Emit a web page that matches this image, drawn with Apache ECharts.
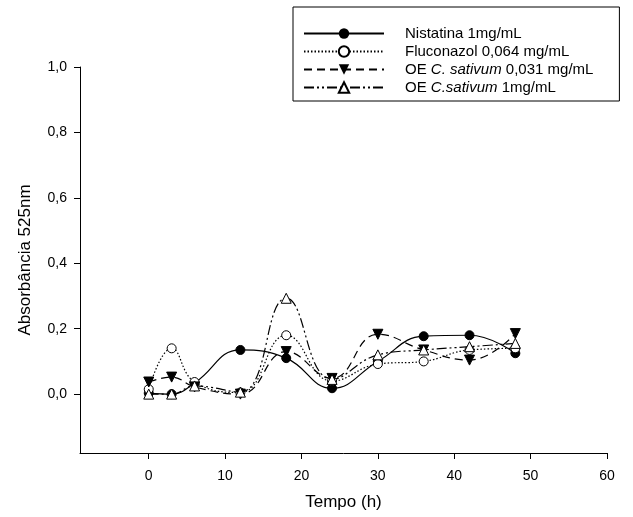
<!DOCTYPE html>
<html>
<head>
<meta charset="utf-8">
<script src="https://cdn.jsdelivr.net/npm/echarts@6/dist/echarts.min.js"></script>
<style>
  html, body { margin: 0; padding: 0; background: #fff; }
  #chart { width: 633px; height: 517px; }
</style>
</head>
<body>
<div id="chart"></div>
<script>
// time points (h)
var tempo = [0, 3, 6, 12, 18, 24, 30, 36, 42, 48];

// absorbance
var nistatina   = [0.003, 0.0, 0.034, 0.135, 0.11, 0.018, 0.10, 0.177, 0.18, 0.125];
var fluconazol  = [0.015, 0.14, 0.037, 0.005, 0.18, 0.04, 0.092, 0.10, 0.135, 0.14];
var oeBaixa     = [0.037, 0.052, 0.022, 0.0, 0.13, 0.048, 0.183, 0.135, 0.104, 0.185];
var oeAlta      = [0.0, 0.0, 0.025, 0.006, 0.293, 0.045, 0.12, 0.135, 0.145, 0.155];

var seriesNames = [
    'Nistatina 1mg/mL',
    'Fluconazol 0,064 mg/mL',
    'OE C. sativum 0,031 mg/mL',
    'OE C.sativum 1mg/mL'
];
var legendLabels = [
    'Nistatina 1mg/mL',
    'Fluconazol 0,064 mg/mL',
    'OE {i|C. sativum} 0,031 mg/mL',
    'OE {i|C.sativum} 1mg/mL'
];

var xTicks = [0, 10, 20, 30, 40, 50, 60];
var yTicks = [0, 0.2, 0.4, 0.6, 0.8, 1.0];

function pairs(vals) {
    return tempo.map(function (t, i) { return [t, vals[i]]; });
}

var font = 'Liberation Sans, Arial, sans-serif';
var chart = echarts.init(document.getElementById('chart'));

var option = {
    animation: false,
    backgroundColor: '#fff',
    textStyle: { fontFamily: font, color: '#000' },
    grid: { left: 80, top: 67, right: 26, bottom: 64 },
    legend: {
        orient: 'vertical',
        left: 293,
        top: 7,
        padding: [19, 26, 6, 10],
        itemGap: 3,
        itemWidth: 80,
        itemHeight: 13,
        borderColor: '#000',
        borderWidth: 1,
        data: seriesNames,
        formatter: function (name) {
            return legendLabels[seriesNames.indexOf(name)];
        },
        textStyle: {
            fontFamily: font,
            fontSize: 15,
            color: '#000',
            padding: [0, 0, 0, 16],
            rich: {
                i: { fontStyle: 'italic', fontFamily: font, fontSize: 15, color: '#000' }
            }
        }
    },
    xAxis: {
        type: 'value',
        min: -9,
        max: 60,
        name: 'Tempo (h)',
        nameLocation: 'middle',
        nameGap: 41,
        nameTextStyle: { fontSize: 17, color: '#000', fontFamily: font },
        splitLine: { show: false },
        axisLine: { onZero: false, lineStyle: { color: '#000', width: 1 } },
        axisTick: { customValues: xTicks, length: 6, lineStyle: { color: '#000' } },
        axisLabel: { customValues: xTicks, fontSize: 14, color: '#000', margin: 16 }
    },
    yAxis: {
        type: 'value',
        min: -0.18,
        max: 1.0,
        name: 'Absorbância 525nm',
        nameLocation: 'middle',
        nameGap: 46,
        nameTextStyle: { fontSize: 17, color: '#000', fontFamily: font },
        splitLine: { show: false },
        axisLine: { show: true, onZero: false, lineStyle: { color: '#000', width: 1 } },
        axisTick: { show: true, customValues: yTicks, length: 6, lineStyle: { color: '#000' } },
        axisLabel: {
            customValues: yTicks,
            fontSize: 14,
            color: '#000',
            margin: 13,
            formatter: function (v) { return v.toFixed(1).replace('.', ','); }
        }
    },
    series: [
        {
            name: seriesNames[0],
            type: 'line',
            smooth: 0.45,
            data: pairs(nistatina),
            symbol: 'circle',
            symbolSize: 9,
            itemStyle: { color: '#000', borderColor: '#000' },
            lineStyle: { color: '#000', width: 1.2, type: 'solid' }
        },
        {
            name: seriesNames[1],
            type: 'line',
            smooth: 0.45,
            data: pairs(fluconazol),
            symbol: 'circle',
            symbolSize: 9,
            itemStyle: { color: '#fff', borderColor: '#000', borderWidth: 1 },
            lineStyle: { color: '#000', width: 1.2, type: [1.5, 2] }
        },
        {
            name: seriesNames[2],
            type: 'line',
            smooth: 0.45,
            data: pairs(oeBaixa),
            symbol: 'triangle',
            symbolRotate: 180,
            symbolSize: 10,
            itemStyle: { color: '#000', borderColor: '#000' },
            lineStyle: { color: '#000', width: 1.2, type: [8, 5] }
        },
        {
            name: seriesNames[3],
            type: 'line',
            smooth: 0.45,
            data: pairs(oeAlta),
            symbol: 'triangle',
            symbolSize: 10,
            itemStyle: { color: '#fff', borderColor: '#000', borderWidth: 1 },
            lineStyle: { color: '#000', width: 1.2, type: [10, 3, 2, 3, 2, 3] }
        }
    ]
};

chart.setOption(option);
</script>
</body>
</html>
